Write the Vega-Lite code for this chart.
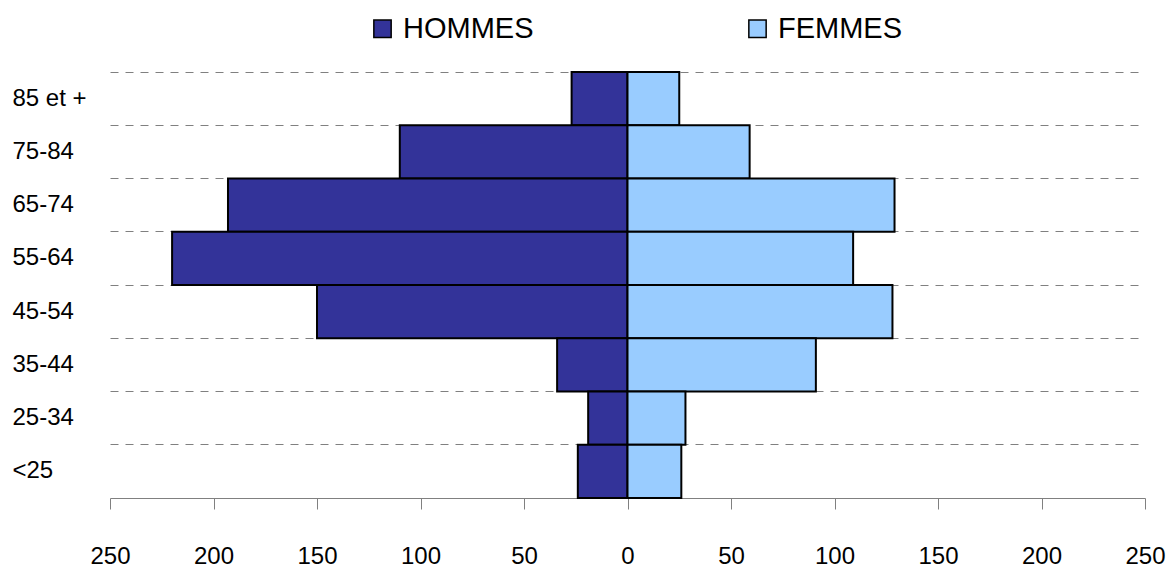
{
  "$schema": "https://vega.github.io/schema/vega-lite/v6.json",
  "autosize": "none",
  "padding": {"left": 110, "top": 72, "right": 31, "bottom": 71},
  "width": 1035,
  "height": 426,
  "background": "white",
  "config": {
    "view": {"stroke": null},
    "font": "Liberation Sans",
    "axis": {"labelFont": "Liberation Sans", "labelColor": "black"}
  },
  "data": {
    "values": [
      {"age": "85 et +", "sexe": "HOMMES", "valeur": -27},
      {"age": "75-84", "sexe": "HOMMES", "valeur": -110},
      {"age": "65-74", "sexe": "HOMMES", "valeur": -193},
      {"age": "55-64", "sexe": "HOMMES", "valeur": -220},
      {"age": "45-54", "sexe": "HOMMES", "valeur": -150},
      {"age": "35-44", "sexe": "HOMMES", "valeur": -34},
      {"age": "25-34", "sexe": "HOMMES", "valeur": -19},
      {"age": "<25", "sexe": "HOMMES", "valeur": -24},
      {"age": "85 et +", "sexe": "FEMMES", "valeur": 25},
      {"age": "75-84", "sexe": "FEMMES", "valeur": 59},
      {"age": "65-74", "sexe": "FEMMES", "valeur": 129},
      {"age": "55-64", "sexe": "FEMMES", "valeur": 109},
      {"age": "45-54", "sexe": "FEMMES", "valeur": 128},
      {"age": "35-44", "sexe": "FEMMES", "valeur": 91},
      {"age": "25-34", "sexe": "FEMMES", "valeur": 28},
      {"age": "<25", "sexe": "FEMMES", "valeur": 26}
    ]
  },
  "mark": {"type": "bar", "stroke": "black", "strokeWidth": 2},
  "encoding": {
    "y": {
      "field": "age",
      "type": "nominal",
      "sort": ["85 et +", "75-84", "65-74", "55-64", "45-54", "35-44", "25-34", "<25"],
      "scale": {"paddingInner": 0, "paddingOuter": 0},
      "axis": {
        "title": null,
        "domain": false,
        "ticks": false,
        "tickSize": 0,
        "labelAlign": "left",
        "labelPadding": 98,
        "labelFontSize": 24,
        "grid": true,
        "bandPosition": 0,
        "gridColor": "#808080",
        "gridDash": [8, 7],
        "gridWidth": 1
      }
    },
    "x": {
      "field": "valeur",
      "type": "quantitative",
      "stack": null,
      "scale": {"domain": [-250, 250], "nice": false},
      "axis": {
        "title": null,
        "grid": false,
        "values": [-250, -200, -150, -100, -50, 0, 50, 100, 150, 200, 250],
        "labelExpr": "abs(datum.value)",
        "labelFlush": false,
        "labelOverlap": false,
        "domainColor": "#808080",
        "tickColor": "#808080",
        "tickSize": 11,
        "labelPadding": 35,
        "labelFontSize": 24
      }
    },
    "color": {
      "field": "sexe",
      "type": "nominal",
      "sort": ["HOMMES", "FEMMES"],
      "scale": {"domain": ["HOMMES", "FEMMES"], "range": ["#333399", "#99CCFF"]},
      "legend": {
        "title": null,
        "orient": "none",
        "direction": "horizontal",
        "legendX": 258,
        "legendY": -58,
        "symbolType": "square",
        "symbolSize": 300,
        "symbolStrokeColor": "black",
        "symbolStrokeWidth": 1.5,
        "symbolOpacity": 1,
        "labelFontSize": 29,
        "labelFont": "Liberation Sans",
        "labelColor": "black",
        "labelOffset": 6,
        "columnPadding": 209,
        "labelLimit": 300
      }
    }
  }
}
